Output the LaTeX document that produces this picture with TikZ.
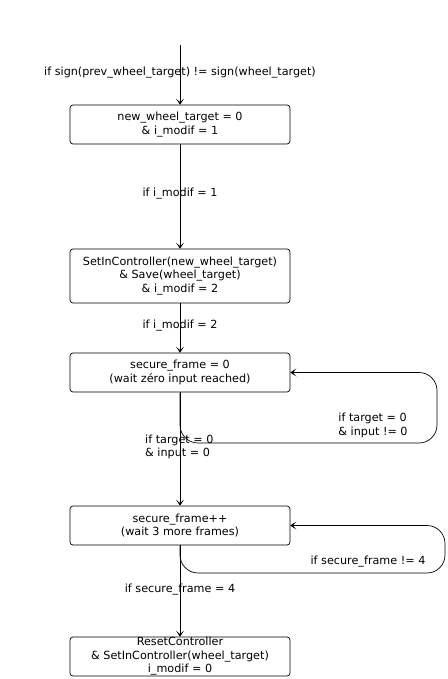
\documentclass[tikz,border=0pt]{standalone}
\usepackage{fontspec}
\setmainfont{DejaVu Sans}
\usetikzlibrary{arrows.meta}
\begin{document}
\begin{tikzpicture}[x=1pt,y=-1pt,
  font=\fontsize{11.2}{13.5}\selectfont,
  state/.style={draw=black, line width=0.7pt, rounded corners=3pt, minimum width=220pt, align=center, inner sep=0pt},
  lbl/.style={inner sep=0pt, align=left},
  arr/.style={draw=black, line width=0.7pt, -{Stealth[length=6pt,width=8pt,inset=3.5pt]}}]
\useasboundingbox (0,0) rectangle (447,679);
\coordinate (start) at (180,45);
\node[state, minimum height=39pt] (b1) at (180,124.5) {new\_wheel\_target = 0\\\& i\_modif = 1};
\node[state, minimum height=54pt] (b2) at (180,276) {SetInController(new\_wheel\_target)\\\& Save(wheel\_target)\\\& i\_modif = 2};
\node[state, minimum height=39pt] (b3) at (180,372.5) {secure\_frame = 0\\(wait zéro input reached)};
\node[state, minimum height=39pt] (b4) at (180,525.5) {secure\_frame++\\(wait 3 more frames)};
\node[state, minimum height=39pt] (b5) at (180,656.5) {ResetController\\\& SetInController(wheel\_target)\\i\_modif = 0};
\coordinate (c1) at (437,443);
\coordinate (c2) at (445,573);
\draw[arr] (start) -- (b1);
\draw[arr] (b1) -- (b2);
\draw[arr] (b2) -- (b3);
\draw[arr] (b3) -- (b4);
\draw[arr] (b4) -- (b5);
\draw[arr, rounded corners=18pt] (b3.south) |- (c1) |- (b3.east);
\draw[arr, rounded corners=18pt] (b4.south) |- (c2) |- (b4.east);
\node[lbl] (l0) at (180,73) {if sign(prev\_wheel\_target) != sign(wheel\_target)};
\node[lbl] (l1) at (180,194) {if i\_modif = 1};
\node[lbl] (l2) at (180,326) {if i\_modif = 2};
\node[lbl] (l3) at (373,425.5) {if target = 0\\\& input != 0};
\node[lbl, anchor=west] (l4) at (145,447) {if target = 0\\\& input = 0};
\node[lbl] (l5) at (368,562) {if secure\_frame != 4};
\node[lbl] (l6) at (180,590) {if secure\_frame = 4};
\end{tikzpicture}
\end{document}
